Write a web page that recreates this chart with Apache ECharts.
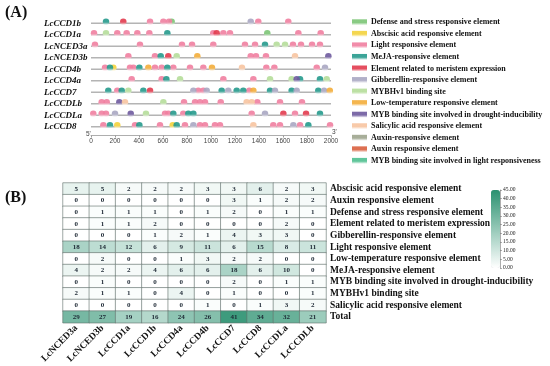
<!DOCTYPE html>
<html>
<head>
<meta charset="utf-8">
<script src="https://cdn.jsdelivr.net/npm/echarts@6/dist/echarts.min.js"></script>
<style>html,body{margin:0;padding:0;background:#fff;}#c{width:550px;height:366px;}</style>
</head>
<body>
<div id="c"></div>
<script>
// ---------- Part A: promoter motif map ----------
const genesA = ['LcCCD1b','LcCCD1a','LcNCED3a','LcNCED3b','LcCCD4b','LcCCD4a','LcCCD7','LcCCDLb','LcCCDLa','LcCCD8'];
const xTicksA = [0,200,400,600,800,1000,1200,1400,1600,1800,2000];
const promoterLength = 2000;

const motifTypes = [
  'Defense and stress responsive element',
  'Abscisic acid responsive element',
  'Light responsive element',
  'MeJA-responsive element',
  'Element related to meristem expression',
  'Gibberellin-responsive element',
  'MYBHv1 binding site',
  'Low-temperature responsive element',
  'MYB binding site involved in drought-inducibility',
  'Salicylic acid responsive element',
  'Auxin-responsive element',
  'Auxin responsive element',
  'MYB binding site involved in light responsiveness'
];
const motifKeys = ['DEF','ABA','LIGHT','MEJA','MER','GA','HV1','LTR','MYBD','SA','AUX1','AUX2','MYBL'];
const motifColors = ['#7cc576','#f3d23c','#f07fa0','#259a8c','#e23b4e','#a9a7c2','#b5dd9a','#f3ad3a','#6e5a9e','#f7c4a0','#9ea58e','#d9603f','#4fbf8f'];

const LcCCD1b = [[125,'MEJA'],[269,'MER'],[492,'LIGHT'],[603,'LIGHT'],[650,'LIGHT'],[672,'DEF'],[1331,'GA'],[1394,'LIGHT'],[1644,'LIGHT']];
const LcCCD1a = [[25,'LIGHT'],[125,'HV1'],[219,'LIGHT'],[297,'LIGHT'],[386,'LIGHT'],[486,'LIGHT'],[636,'MEJA'],[1019,'LIGHT'],[1047,'MER'],[1103,'LIGHT'],[1158,'LIGHT'],[1469,'DEF'],[1728,'LIGHT'],[1914,'LIGHT']];
const LcNCED3a = [[33,'LIGHT'],[408,'LIGHT'],[758,'LIGHT'],[842,'LIGHT'],[1019,'LIGHT'],[1283,'LIGHT'],[1367,'LIGHT'],[1450,'MEJA'],[1547,'HV1'],[1617,'HV1'],[1683,'LIGHT'],[1750,'LIGHT'],[1842,'LIGHT'],[1908,'LIGHT']];
const LcNCED3b = [[311,'LIGHT'],[533,'LIGHT'],[581,'MEJA'],[644,'MER'],[714,'HV1'],[886,'LTR'],[1331,'LIGHT'],[1375,'LIGHT'],[1458,'LIGHT'],[1700,'SA'],[1978,'MYBD']];
const LcCCD4b = [[117,'LIGHT'],[158,'MEJA'],[186,'ABA'],[325,'LIGHT'],[353,'LIGHT'],[403,'MEJA'],[478,'LTR'],[533,'LIGHT'],[589,'LIGHT'],[636,'MEJA'],[686,'LIGHT'],[825,'LIGHT'],[936,'LIGHT'],[1008,'LTR'],[1258,'SA'],[1461,'LIGHT'],[1528,'LIGHT'],[1881,'LIGHT'],[1950,'GA']];
const LcCCD4a = [[339,'LIGHT'],[589,'LIGHT'],[628,'MEJA'],[742,'HV1'],[1103,'LIGHT'],[1353,'LIGHT'],[1492,'HV1'],[1672,'HV1'],[1714,'MYBD'],[1742,'MEJA'],[1908,'MEJA'],[1964,'HV1']];
const LcCCD7 = [[144,'MEJA'],[219,'LIGHT'],[256,'MEJA'],[311,'HV1'],[436,'MEJA'],[492,'MER'],[853,'GA'],[894,'LIGHT'],[936,'LIGHT'],[964,'GA'],[1089,'MEJA'],[1144,'GA'],[1214,'MEJA'],[1269,'MEJA'],[1319,'LIGHT'],[1353,'LTR'],[1492,'MEJA'],[1533,'GA'],[1672,'MEJA'],[1714,'GA'],[1894,'MEJA'],[1942,'GA'],[1990,'LTR']];
const LcCCDLb = [[89,'LIGHT'],[131,'LIGHT'],[236,'MYBD'],[283,'SA'],[603,'HV1'],[775,'LIGHT'],[867,'LIGHT'],[908,'LIGHT'],[950,'LIGHT'],[1081,'LIGHT'],[1297,'SA'],[1339,'SA'],[1386,'LIGHT'],[1575,'LIGHT'],[1758,'LIGHT']];
const LcCCDLa = [[19,'LIGHT'],[89,'LIGHT'],[125,'LIGHT'],[200,'GA'],[331,'MYBD'],[458,'HV1'],[617,'LIGHT'],[644,'LIGHT'],[686,'MEJA'],[769,'LIGHT'],[811,'MEJA'],[853,'MEJA'],[1339,'LIGHT'],[1450,'GA'],[1603,'MER'],[1700,'LIGHT'],[1792,'MER'],[1908,'MEJA']];
const LcCCD8 = [[103,'LIGHT'],[158,'MEJA'],[219,'ABA'],[367,'LIGHT'],[403,'MEJA'],[575,'LIGHT'],[681,'ABA'],[714,'MEJA'],[783,'LIGHT'],[853,'GA'],[908,'LIGHT'],[950,'LIGHT'],[1033,'LIGHT'],[1075,'LIGHT'],[1353,'SA'],[1519,'LIGHT'],[1575,'LIGHT'],[1686,'GA'],[1742,'LIGHT'],[1811,'MEJA'],[1992,'LIGHT']];
const motifsByGene = {LcCCD1b, LcCCD1a, LcNCED3a, LcNCED3b, LcCCD4b, LcCCD4a, LcCCD7, LcCCDLb, LcCCDLa, LcCCD8};

// ---------- Part B: heatmap ----------
const genesB = ['LcNCED3a','LcNCED3b','LcCCD1a','LcCCD1b','LcCCD4a','LcCCD4b','LcCCD7','LcCCD8','LcCCDLa','LcCCDLb'];
const elementsB = ['Abscisic acid responsive element','Auxin responsive element','Defense and stress responsive element','Element related to meristem expression','Gibberellin-responsive element','Light responsive element','Low-temperature responsive element','MeJA-responsive element','MYB binding site involved in drought-inducibility','MYBHv1 binding site','Salicylic acid responsive element','Total'];
const abscisic    = [5,5,2,2,2,3,3,6,2,3];
const auxin       = [0,0,0,0,0,0,3,1,2,2];
const defense     = [0,1,1,1,0,1,2,0,1,1];
const meristem    = [0,1,1,2,0,0,0,0,2,0];
const gibberellin = [0,0,0,1,2,1,4,3,3,0];
const light       = [18,14,12,6,9,11,6,15,8,11];
const lowTemp     = [0,2,0,0,1,3,2,2,0,0];
const meja        = [4,2,2,4,6,6,18,6,10,0];
const mybDrought  = [0,1,0,0,0,0,2,0,1,1];
const mybhv1      = [2,1,1,0,4,0,1,0,0,1];
const salicylic   = [0,0,0,0,0,1,0,1,3,2];
const total       = [29,27,19,16,24,26,41,34,32,21];
const countRows = [abscisic,auxin,defense,meristem,gibberellin,light,lowTemp,meja,mybDrought,mybhv1,salicylic,total];
const colorbarTicks = [0,5,10,15,20,25,30,35,40,45];

const SERIF = '"Liberation Serif","Times New Roman",serif';

function grad(c){
  return {type:'linear',x:0,y:0,x2:0,y2:1,colorStops:[{offset:0,color:c},{offset:0.55,color:c},{offset:1,color:'#ffffff'}]};
}

const motifSeries = motifTypes.map((name, i) => {
  const data = [];
  genesA.forEach(g => {
    motifsByGene[g].forEach(m => { if (m[1] === motifKeys[i]) data.push([m[0], g]); });
  });
  return {
    type:'scatter', name, xAxisIndex:0, yAxisIndex:0, data,
    symbol:'circle', symbolSize:6.5, symbolOffset:[0,-1.5],
    itemStyle:{color:grad(motifColors[i]), opacity:0.9},
    z:5, silent:true
  };
});

const heatData = [];
countRows.forEach((row, r) => row.forEach((v, c) => heatData.push([c, r, v])));

const option = {
  animation:false,
  backgroundColor:'#ffffff',
  grid:[
    {left:91, top:17.5, width:240, height:115},
    {left:63, top:183, width:263, height:140},
    {left:500, top:190, width:1, height:78}
  ],
  xAxis:[
    {gridIndex:0, type:'value', min:0, max:promoterLength, interval:200, offset:3,
     axisLine:{show:true,lineStyle:{color:'#999',width:0.8}},
     axisTick:{show:true,length:2,lineStyle:{color:'#999'}},
     axisLabel:{fontSize:6.5,color:'#444',margin:2,fontFamily:'"Liberation Sans",Arial,sans-serif',
       customValues: xTicksA, formatter:v=>String(v)},
     splitLine:{show:false}},
    {gridIndex:1, type:'category', data:genesB, position:'bottom',
     axisLine:{show:false}, axisTick:{show:false},
     axisLabel:{rotate:45, fontSize:9.5, fontWeight:'bold', fontFamily:SERIF, color:'#111', margin:4, interval:0},
     splitLine:{show:false}},
    {gridIndex:2, type:'value', show:false}
  ],
  yAxis:[
    {gridIndex:0, type:'category', data:genesA, inverse:true,
     axisLine:{show:false}, axisTick:{show:false}, splitLine:{show:false},
     axisLabel:{fontSize:9, fontStyle:'italic', fontWeight:'bold', fontFamily:SERIF, color:'#111', align:'left', margin:47, interval:0}},
    {gridIndex:1, type:'category', data:elementsB, inverse:true, position:'right',
     axisLine:{show:false}, axisTick:{show:false}, splitLine:{show:false},
     axisLabel:{fontSize:9.5, fontWeight:'bold', fontFamily:SERIF, color:'#111', margin:4, interval:0}},
    {gridIndex:2, type:'value', min:0, max:45, interval:5, position:'right',
     axisLine:{show:true,lineStyle:{color:'#777',width:0.6}},
     axisTick:{show:true,length:2,lineStyle:{color:'#777',width:0.6}},
     splitLine:{show:false},
     axisLabel:{fontSize:5.5, color:'#222', margin:2, fontFamily:SERIF, formatter:v=>v.toFixed(2), customValues: colorbarTicks}}
  ],
  legend:{
    data:motifTypes, orient:'vertical', left:347, top:12.8,
    icon:'rect', itemWidth:15, itemHeight:6, itemGap:2.55,
    textStyle:{fontSize:8, lineHeight:9, fontWeight:'bold', fontFamily:SERIF, color:'#111', padding:[0,0,0,-1]},
    selectedMode:false
  },
  visualMap:{
    type:'continuous', min:0, max:45, seriesIndex:motifTypes.length + 1,
    calculable:false, orient:'vertical', left:491, top:190, itemWidth:9, itemHeight:78,
    text:null, inRange:{color:['#ffffff','#2b9170']}, padding:0
  },
  graphic:[
    {type:'text', left:5, top:5, style:{text:'(A)', font:'bold 16px '+SERIF, fill:'#111'}},
    {type:'text', left:5, top:190, style:{text:'(B)', font:'bold 16px '+SERIF, fill:'#111'}},
    {type:'text', left:86, top:131, style:{text:"5'", font:'6.5px "Liberation Sans",sans-serif', fill:'#444'}},
    {type:'text', left:332, top:129, style:{text:"3'", font:'6.5px "Liberation Sans",sans-serif', fill:'#444'}}
  ],
  series:[
    {type:'custom', name:'promoter', xAxisIndex:0, yAxisIndex:0, silent:true, z:2,
     data:genesA.map((g,i)=>[0,i]),
     renderItem:function(params, api){
       const p1 = api.coord([0, api.value(1)]);
       const p2 = api.coord([promoterLength, api.value(1)]);
       return {type:'line', shape:{x1:p1[0],y1:p1[1],x2:p2[0],y2:p2[1]}, style:{stroke:'#b4b4b4', lineWidth:1.6}};
     }},
    ...motifSeries,
    {type:'heatmap', name:'counts', xAxisIndex:1, yAxisIndex:1, data:heatData,
     itemStyle:{borderColor:'#5f6f6a', borderWidth:0.6},
     label:{show:true, fontSize:7, fontWeight:'bold', fontFamily:SERIF, color:'#1c2733'}}
  ]
};

const chart = echarts.init(document.getElementById('c'), null, {renderer:'canvas'});
chart.setOption(option);
</script>
</body>
</html>
